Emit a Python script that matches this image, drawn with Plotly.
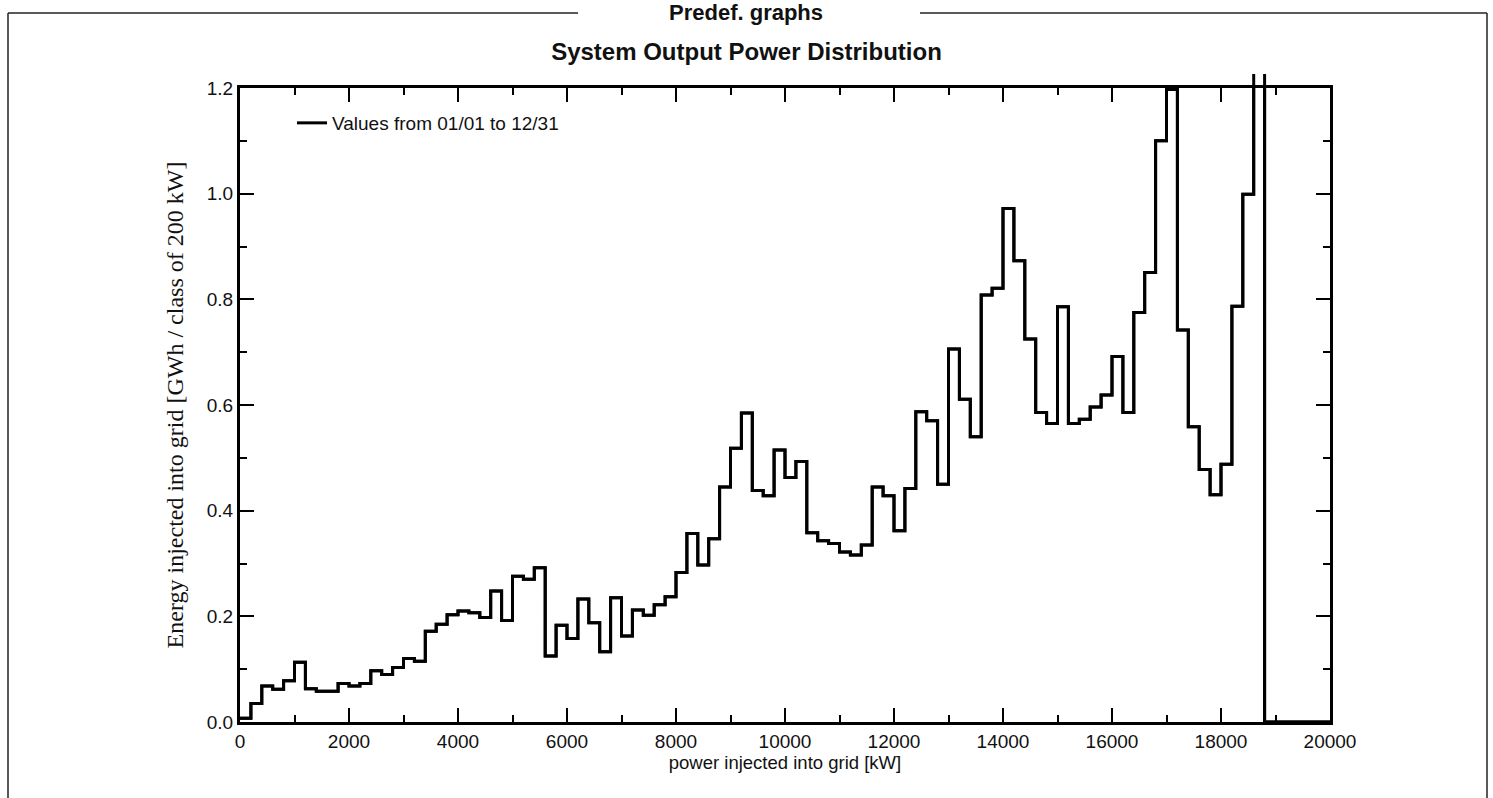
import plotly.graph_objects as go

# ---------------- data ----------------
bin_width = 200  # kW per class
bin_start_kw = list(range(0, 20000, bin_width))
energy_gwh = [
    0.007, 0.035, 0.068, 0.062, 0.078, 0.113, 0.063, 0.058, 0.058, 0.073,   # 0-2000
    0.068, 0.073, 0.097, 0.090, 0.103, 0.120, 0.115, 0.172, 0.185, 0.203,   # 2000-4000
    0.210, 0.207, 0.198, 0.248, 0.192, 0.276, 0.270, 0.292, 0.125, 0.183,   # 4000-6000
    0.158, 0.233, 0.188, 0.133, 0.235, 0.163, 0.212, 0.202, 0.222, 0.237,   # 6000-8000
    0.283, 0.357, 0.297, 0.347, 0.445, 0.518, 0.585, 0.438, 0.428, 0.515,   # 8000-10000
    0.463, 0.493, 0.358, 0.343, 0.338, 0.322, 0.316, 0.335, 0.445, 0.428,   # 10000-12000
    0.362, 0.442, 0.587, 0.570, 0.450, 0.706, 0.611, 0.540, 0.808, 0.821,   # 12000-14000
    0.972, 0.873, 0.725, 0.586, 0.565, 0.786, 0.565, 0.573, 0.596, 0.619,   # 14000-16000
    0.692, 0.586, 0.775, 0.851, 1.100, 1.197, 0.742, 0.559, 0.478, 0.430,   # 16000-18000
    0.488, 0.787, 0.999, 1.450, 0.0, 0.0, 0.0, 0.0, 0.0, 0.0,               # 18000-20000
]
x_end_kw = 20000

x_ticks = [0, 2000, 4000, 6000, 8000, 10000, 12000, 14000, 16000, 18000, 20000]
y_ticks = [0.0, 0.2, 0.4, 0.6, 0.8, 1.0, 1.2]

# ---------------- layout geometry ----------------
W, H = 1493, 798
ML, MR, MT, MB = 240, 163, 74, 76
plot_w = W - ML - MR
plot_h = H - MT - MB
frame_top_px = 88
main_top = (H - MB - frame_top_px) / plot_h  # fraction of plot area used by 0..1.2 frame
y_max = 1.2


def px_x(px):
    return (px - ML) / plot_w


def px_y(py):
    return (H - MB - py) / plot_h


xs = bin_start_kw + [x_end_kw]
ys = energy_gwh + [energy_gwh[-1]]

line_style = dict(shape="hv", color="black", width=3)
fig = go.Figure()
# main series inside the 0..1.2 frame
fig.add_trace(go.Scatter(
    x=xs, y=ys, mode="lines", line=line_style,
    name="Values from 01/01 to 12/31", xaxis="x", yaxis="y", showlegend=True,
))
# same series on a taller, invisible twin axis so values above 1.2 overflow the frame as in the original
fig.add_trace(go.Scatter(
    x=xs, y=ys, mode="lines", line=line_style,
    name="Values from 01/01 to 12/31", xaxis="x2", yaxis="y2", showlegend=False, hoverinfo="skip",
))

SANS = "Liberation Sans, Arial, sans-serif"
tick_font = dict(family=SANS, size=19, color="#111")

fig.update_layout(
    width=W, height=H,
    margin=dict(l=ML, r=MR, t=MT, b=MB),
    paper_bgcolor="white", plot_bgcolor="rgba(0,0,0,0)",
    font=dict(family=SANS, color="#111"),
    title=dict(text="<b>System Output Power Distribution</b>", x=0.5, xanchor="center",
               y=1 - 52 / H, yanchor="middle", font=dict(size=24, color="#111")),
    xaxis=dict(range=[0, x_end_kw], domain=[0, 1], anchor="y",
               showline=True, linecolor="black", linewidth=3, mirror="ticks",
               ticks="inside", ticklen=14, tickwidth=2, tickcolor="black",
               tickvals=x_ticks, ticktext=[str(v) for v in x_ticks],
               minor=dict(dtick=1000, tick0=0, ticks="inside", ticklen=7, tickwidth=2, tickcolor="black"),
               showgrid=False, zeroline=False, tickfont=tick_font,
               title=dict(text="power injected into grid [kW]", standoff=1,
                          font=dict(size=18.5, family=SANS, color="#111"))),
    yaxis=dict(range=[0, y_max], domain=[0, main_top], anchor="x",
               showline=True, linecolor="black", linewidth=3, mirror="ticks",
               ticks="inside", ticklen=14, tickwidth=2, tickcolor="black",
               tickvals=y_ticks, ticktext=[f"{v:.1f}" for v in y_ticks],
               minor=dict(dtick=0.1, tick0=0, ticks="inside", ticklen=7, tickwidth=2, tickcolor="black"),
               showgrid=False, zeroline=False, tickfont=tick_font,
               title=dict(text="Energy injected into grid [GWh / class of 200 kW]", standoff=17,
                          font=dict(size=24, family="Liberation Serif, Times New Roman, serif", color="#111"))),
    xaxis2=dict(range=[0, x_end_kw], domain=[0, 1], anchor="y2", visible=False),
    yaxis2=dict(range=[0, y_max / main_top], domain=[0, 1], anchor="x2", visible=False),
    legend=dict(x=px_x(292), y=px_y(104), xanchor="left", yanchor="top",
                bgcolor="rgba(0,0,0,0)", font=dict(size=19, color="#111")),
    showlegend=True,
)

# outer panel frame (with gap for the panel caption)
frame_line = dict(color="#222", width=1.5)
frame_shapes = [
    (8, 13, 578, 13), (920, 13, 1487, 13),
    (8, 13, 8, 810), (1487, 13, 1487, 810),
]
for x0, y0, x1, y1 in frame_shapes:
    fig.add_shape(type="line", xref="paper", yref="paper",
                  x0=px_x(x0), y0=px_y(y0), x1=px_x(x1), y1=px_y(y1), line=frame_line)

fig.add_annotation(text="<b>Predef. graphs</b>", xref="paper", yref="paper",
                   x=px_x(746), y=px_y(13), xanchor="center", yanchor="middle",
                   showarrow=False, font=dict(size=22, color="#111"))

fig.write_html("out.html", config={"displayModeBar": False},
               post_script="document.body.style.margin='0';")
